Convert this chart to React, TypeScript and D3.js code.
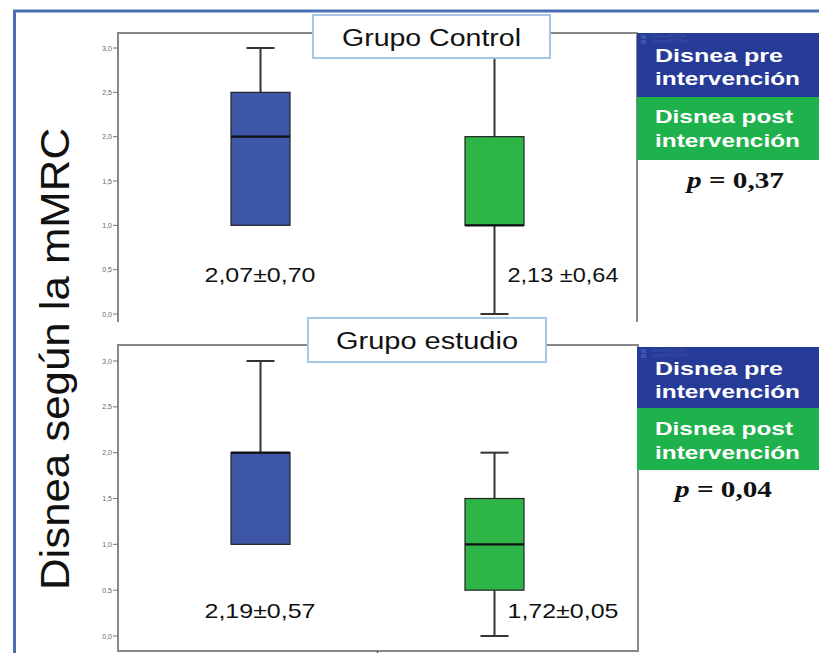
import React, { useEffect, useRef } from 'react';
import * as d3 from 'd3';

// Boxplot data: per group, [pre, post]
const groups = ['Grupo Control', 'Grupo estudio'];
const seriesNames = ['Disnea pre', 'Disnea post'];
const whiskerLow = [[1.0, 0.0], [1.0, 0.0]];
const q1 = [[1.0, 1.0], [1.0, 0.5]];
const median = [[2.0, 1.0], [2.0, 1.0]];
const q3 = [[2.5, 2.0], [2.0, 1.5]];
const whiskerHigh = [[3.0, 3.0], [3.0, 2.0]];
const meanLabels = [['2,07±0,70', '2,13 ±0,64'], ['2,19±0,57', '1,72±0,05']];
const pValues = ['0,37', '0,04'];
const legendLines = [['Disnea pre', 'intervención'], ['Disnea post', 'intervención']];
const yTicks = [0, 0.5, 1, 1.5, 2, 2.5, 3];

const W = 819, H = 653;
const plotLeft = 118, plotRight = 637;
const boxColors = ['#3d56a6', '#2db548'];
const legendColors = ['#263b98', '#1fb14c'];
const SANS = "'Liberation Sans', Arial, sans-serif";
const SERIF = "'Liberation Serif', 'Times New Roman', serif";

// layout of the two stacked panels
const panels = [
  { top: 33, bottom: 322, zeroY: 314, maxY: 48, tTop: 15, tBot: 58, tX0: 313, tX1: 550, tBase: 46, tLen: 179,
    lTop: 33, lMid: 97, lBot: 160, lBase: [62, 85, 123, 147], pX: 687, pBase: 188, labBase: 282, closed: false },
  { top: 345, bottom: 651, zeroY: 636, maxY: 361, tTop: 318, tBot: 362, tX0: 308, tX1: 546, tBase: 349, tLen: 182,
    lTop: 347, lMid: 408, lBot: 470, lBase: [375, 398, 435, 459], pX: 675, pBase: 497, labBase: 618, closed: true },
];

const App = () => {
  const ref = useRef<SVGSVGElement | null>(null);

  useEffect(() => {
    if (!ref.current) return;
    const svg = d3.select(ref.current);
    svg.selectAll('*').remove();

    svg.append('rect').attr('width', W).attr('height', H).attr('fill', '#fff');

    // outer blue frame
    svg.append('line').attr('x1', 13).attr('x2', W).attr('y1', 11).attr('y2', 11)
      .attr('stroke', '#4a6fb5').attr('stroke-width', 3);
    svg.append('line').attr('x1', 14.5).attr('x2', 14.5).attr('y1', 10).attr('y2', H)
      .attr('stroke', '#4a6fb5').attr('stroke-width', 3);

    // y axis label
    svg.append('text')
      .attr('transform', 'translate(69,359) rotate(-90)')
      .attr('text-anchor', 'middle')
      .attr('font-family', SANS).attr('font-size', 40)
      .attr('textLength', 462).attr('lengthAdjust', 'spacingAndGlyphs')
      .attr('fill', '#111')
      .text('Disnea según la mMRC');

    const x = d3.scalePoint<string>().domain(seriesNames).range([plotLeft, plotRight]).padding(0.609);
    const boxW = 59, capW = 28;

    panels.forEach((p, gi) => {
      const y = d3.scaleLinear().domain([0, 3]).range([p.zeroY, p.maxY]);
      const g = svg.append('g');

      // frame
      if (p.closed) {
        g.append('rect').attr('x', plotLeft).attr('y', p.top)
          .attr('width', plotRight - plotLeft + 1).attr('height', p.bottom - p.top)
          .attr('fill', 'none').attr('stroke', '#888').attr('stroke-width', 2);
        g.append('line').attr('x1', (plotLeft + plotRight) / 2).attr('x2', (plotLeft + plotRight) / 2)
          .attr('y1', p.bottom).attr('y2', p.bottom + 5).attr('stroke', '#555').attr('stroke-width', 1.5);
      } else {
        g.append('path')
          .attr('d', `M${plotLeft},${p.bottom}V${p.top}H${plotRight}V${p.bottom}`)
          .attr('fill', 'none').attr('stroke', '#888').attr('stroke-width', 2);
      }

      // ticks
      yTicks.forEach(t => {
        g.append('line').attr('x1', plotLeft - 5).attr('x2', plotLeft)
          .attr('y1', y(t)).attr('y2', y(t)).attr('stroke', '#777').attr('stroke-width', 1);
        g.append('text').attr('x', plotLeft - 6).attr('y', y(t) + 2.5)
          .attr('text-anchor', 'end').attr('font-family', SANS).attr('font-size', 7)
          .attr('fill', '#666').text(d3.format('.1f')(t).replace('.', ','));
      });

      // boxes
      seriesNames.forEach((s, si) => {
        const cx = x(s)!;
        const lo = whiskerLow[gi][si], hi = whiskerHigh[gi][si];
        const a = q1[gi][si], b = q3[gi][si], m = median[gi][si];
        if (hi > b) {
          g.append('line').attr('x1', cx).attr('x2', cx).attr('y1', y(b)).attr('y2', y(hi))
            .attr('stroke', '#333').attr('stroke-width', 2);
          g.append('line').attr('x1', cx - capW / 2).attr('x2', cx + capW / 2).attr('y1', y(hi)).attr('y2', y(hi))
            .attr('stroke', '#333').attr('stroke-width', 2);
        }
        if (lo < a) {
          g.append('line').attr('x1', cx).attr('x2', cx).attr('y1', y(a)).attr('y2', y(lo))
            .attr('stroke', '#333').attr('stroke-width', 2);
          g.append('line').attr('x1', cx - capW / 2).attr('x2', cx + capW / 2).attr('y1', y(lo)).attr('y2', y(lo))
            .attr('stroke', '#333').attr('stroke-width', 2);
        }
        g.append('rect').attr('x', cx - boxW / 2).attr('y', y(b))
          .attr('width', boxW).attr('height', y(a) - y(b))
          .attr('fill', boxColors[si]).attr('stroke', '#222').attr('stroke-width', 1.2);
        g.append('line').attr('x1', cx - boxW / 2).attr('x2', cx + boxW / 2).attr('y1', y(m)).attr('y2', y(m))
          .attr('stroke', '#111').attr('stroke-width', 2.2);

        // mean ± sd labels
        const lab = g.append('text').attr('y', p.labBase)
          .attr('font-family', SANS).attr('font-size', 21).attr('fill', '#111')
          .attr('textLength', 111).attr('lengthAdjust', 'spacingAndGlyphs')
          .text(meanLabels[gi][si]);
        if (si === 0) lab.attr('x', cx - 56);
        else lab.attr('x', cx + 13);
      });

      // legend
      g.append('rect').attr('x', plotRight).attr('y', p.lTop).attr('width', W - plotRight).attr('height', p.lMid - p.lTop)
        .attr('fill', legendColors[0]);
      g.append('rect').attr('x', plotRight).attr('y', p.lMid).attr('width', W - plotRight).attr('height', p.lBot - p.lMid)
        .attr('fill', legendColors[1]);
      // faint leftover legend entries
      ['Disnea MRC Pre', 'Disnea MRC Post'].forEach((t, i) => {
        g.append('rect').attr('x', 641).attr('y', p.lTop + 2 + i * 5).attr('width', 5).attr('height', 4)
          .attr('fill', '#3a55b0');
        g.append('text').attr('x', 652).attr('y', p.lTop + 5 + i * 5)
          .attr('font-family', SANS).attr('font-size', 4.5).attr('fill', '#3d52a8').text(t);
      });
      legendLines.forEach((pair, li) => {
        pair.forEach((t, k) => {
          g.append('text').attr('x', 655).attr('y', p.lBase[li * 2 + k])
            .attr('font-family', SANS).attr('font-size', 19).attr('font-weight', 'bold')
            .attr('fill', '#fff')
            .attr('textLength', k === 0 ? (li === 0 ? 128 : 138) : 145)
            .attr('lengthAdjust', 'spacingAndGlyphs')
            .text(t);
        });
      });
      const pt = g.append('text').attr('x', p.pX).attr('y', p.pBase)
        .attr('font-family', SERIF).attr('font-size', 23).attr('font-weight', 'bold').attr('fill', '#111')
        .attr('textLength', 97).attr('lengthAdjust', 'spacingAndGlyphs');
      pt.append('tspan').attr('font-style', 'italic').text('p');
      pt.append('tspan').text(' = ' + pValues[gi]);

      // title box
      g.append('rect').attr('x', p.tX0).attr('y', p.tTop).attr('width', p.tX1 - p.tX0).attr('height', p.tBot - p.tTop)
        .attr('fill', '#fff').attr('stroke', '#a7c5e6').attr('stroke-width', 2);
      g.append('text').attr('x', (p.tX0 + p.tX1) / 2).attr('y', p.tBase)
        .attr('text-anchor', 'middle').attr('font-family', SANS).attr('font-size', 23).attr('fill', '#111')
        .attr('textLength', p.tLen).attr('lengthAdjust', 'spacingAndGlyphs')
        .text(groups[gi]);
    });
  }, []);

  return (
    <svg ref={ref} width={W} height={H} style={{ position: 'absolute', left: 0, top: 0 }} />
  );
};

export default App;
